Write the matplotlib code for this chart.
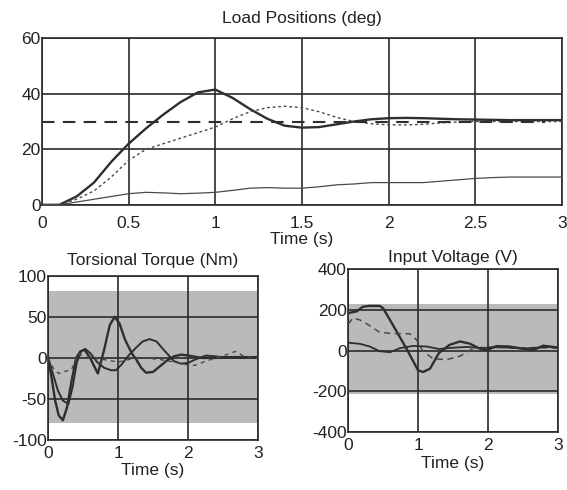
import matplotlib
matplotlib.use("Agg")
import matplotlib.pyplot as plt

plt.rcParams['font.family'] = ['Liberation Sans', 'DejaVu Sans']

# ---------------- data ----------------
t_pos = [0, 0.1, 0.2, 0.3, 0.4, 0.5, 0.6, 0.7, 0.8, 0.9, 1.0, 1.1, 1.2, 1.3, 1.4, 1.5,
         1.6, 1.7, 1.8, 1.9, 2.0, 2.1, 2.2, 2.3, 2.4, 2.5, 2.6, 2.7, 2.8, 2.9, 3.0]
pos_thick = [0, 0, 3, 8, 15.5, 22, 27.5, 32.5, 37, 40.5, 41.5, 38.5, 34.5, 31, 28.5, 27.8,
             28, 29, 30, 30.8, 31.2, 31.3, 31.2, 31, 30.8, 30.7, 30.6, 30.5, 30.5, 30.5, 30.5]
pos_dotted = [0, 0, 2, 5, 10, 16, 20, 22, 24, 26, 28, 31, 33.5, 35, 35.5, 35,
              33.5, 31.5, 30, 29.2, 28.8, 28.8, 29, 29.5, 29.8, 30, 30, 30, 30, 30, 30]
pos_thin = [0, 0, 1, 2, 3, 4, 4.5, 4.3, 4, 4.2, 4.5, 5.2, 6, 6.2, 6, 6,
            6.5, 7.2, 7.5, 8, 8, 8, 8, 8.5, 9, 9.5, 9.8, 10, 10, 10, 10]
t_ref = [0, 2.9]
pos_ref = [30, 30]

t_tq_a = [0, 0.05, 0.1, 0.15, 0.21, 0.27, 0.33, 0.4, 0.46, 0.52, 0.6, 0.71, 0.8, 0.88, 0.95,
          1.02, 1.1, 1.2, 1.26, 1.33, 1.4, 1.5, 1.6, 1.7, 1.8, 1.9, 2.0, 2.2, 2.4, 2.6, 2.8, 3.0]
tq_a = [0, -25, -52, -70, -76, -60, -30, 0, 8, 10, 0, -19, 10, 40, 50,
        42, 22, 5, -2, -12, -18, -17, -10, -3, 2, 4, 3, 0, 0, 1, 1, 1]
t_tq_b = [0, 0.07, 0.14, 0.21, 0.29, 0.35, 0.41, 0.47, 0.53, 0.6, 0.7, 0.8, 0.9, 0.97,
          1.05, 1.15, 1.25, 1.35, 1.45, 1.55, 1.65, 1.8, 1.9, 2.0, 2.1, 2.26, 2.5, 2.8, 3.0]
tq_b = [0, -20, -40, -52, -56, -35, -5, 8, 11, 6, -5, -12, -15, -15,
        -8, 3, 12, 20, 23, 20, 10, -4, -7, -6, -2, 3, 1, 0, 0]
t_tq_c = [0, 0.07, 0.15, 0.25, 0.33, 0.43, 0.5, 0.6, 0.8, 1.0, 1.2, 1.4, 1.6, 1.8,
          1.95, 2.1, 2.25, 2.4, 2.55, 2.68, 2.8, 3.0]
tq_c = [0, -12, -19, -16, -15, 5, 2, 0, -2, -5, -1, 0, -2, -5,
        -8, -9, -4, 0, 4, 8, 2, 0]
tq_band = [-79, 81]

t_v_a = [0, 0.12, 0.21, 0.3, 0.45, 0.5, 0.7, 0.85, 1.0, 1.07, 1.17, 1.3, 1.45, 1.6,
         1.74, 1.88, 1.98, 2.12, 2.3, 2.45, 2.64, 2.79, 3.0]
v_a = [184, 192, 215, 219, 219, 208, 90, 0, -97, -105, -89, -11, 28, 45,
       34, 10, 2, 22, 20, 12, 2, 24, 15]
t_v_b = [0, 0.07, 0.17, 0.31, 0.45, 0.64, 0.88, 0.98, 1.07, 1.21, 1.4, 1.6, 1.76,
         1.9, 2.1, 2.4, 2.7, 3.0]
v_b = [130, 160, 150, 122, 90, 83, 83, 52, -3, -39, -45, -27, 5,
       15, 18, 12, 15, 12]
t_v_c = [0, 0.17, 0.31, 0.45, 0.6, 0.74, 0.93, 1.12, 1.3, 1.5, 1.7, 1.9, 2.1,
         2.3, 2.5, 2.7, 2.85, 3.0]
v_c = [39, 33, 20, -3, -8, 12, 23, 20, 8, 14, 18, 12, 16,
       15, 10, 14, 18, 15]
v_band = [-214, 228]

# ---------------- styles ----------------
LC = '#2e2e2e'
GC = '#2a2a2a'
BAND = '#bababa'
TXT = '#222222'
FS = 12.5

fig = plt.figure(figsize=(5.67, 4.90), dpi=100)
fig.patch.set_facecolor('white')


def style(ax, xt, yt, xl, yl, xlab, ylab, xpad):
    ax.set_xlim(*xl)
    ax.set_ylim(*yl)
    ax.set_xticks(xt)
    ax.set_yticks(yt)
    ax.set_xticklabels(xlab, fontsize=FS, color=TXT)
    ax.set_yticklabels(ylab, fontsize=FS, color=TXT)
    ax.tick_params(axis='x', length=0, pad=xpad)
    ax.tick_params(axis='y', length=0, pad=1)
    ax.grid(True, color=GC, lw=1.2)
    ax.set_axisbelow(False)
    for s in ax.spines.values():
        s.set_color(GC)
        s.set_linewidth(1.2)


# top
ax1 = fig.add_axes([0.074, 0.582, 0.917, 0.340])
ax1.plot(t_pos, pos_thick, color=LC, lw=1.7, zorder=3)
ax1.plot(t_pos, pos_dotted, color='#4a4a4a', lw=1.0, ls=(0, (2, 2)), zorder=3)
ax1.plot(t_pos, pos_thin, color='#4a4a4a', lw=0.9, zorder=3)
ax1.plot(t_ref, pos_ref, color=LC, lw=1.5, ls=(0, (6, 4)), zorder=3)
style(ax1, [0, 0.5, 1, 1.5, 2, 2.5, 3], [0, 20, 40, 60], (0, 3), (0, 60),
      ['0', '0.5', '1', '1.5', '2', '2.5', '3'], ['0', '20', '40', '60'], 8)
ax1.set_title('Load Positions (deg)', fontsize=FS, color=TXT, pad=11)
ax1.set_xlabel('Time (s)', fontsize=FS, color=TXT, labelpad=1)

# bottom left
ax2 = fig.add_axes([0.085, 0.102, 0.370, 0.335])
ax2.axhspan(tq_band[0], tq_band[1], color=BAND, lw=0, zorder=0)
ax2.plot(t_tq_a, tq_a, color=LC, lw=1.7, zorder=3)
ax2.plot(t_tq_b, tq_b, color=LC, lw=1.4, zorder=3)
ax2.plot(t_tq_c, tq_c, color='#4a4a4a', lw=1.0, ls=(0, (3, 3)), zorder=3)
style(ax2, [0, 1, 2, 3], [-100, -50, 0, 50, 100], (0, 3), (-100, 100),
      ['0', '1', '2', '3'], ['-100', '-50', '0', '50', '100'], 4)
ax2.set_title('Torsional Torque (Nm)', fontsize=FS, color=TXT, pad=8)
ax2.set_xlabel('Time (s)', fontsize=FS, color=TXT, labelpad=2)

# bottom right
ax3 = fig.add_axes([0.614, 0.118, 0.370, 0.333])
ax3.axhspan(v_band[0], v_band[1], color=BAND, lw=0, zorder=0)
ax3.plot(t_v_a, v_a, color=LC, lw=1.7, zorder=3)
ax3.plot(t_v_b, v_b, color='#4a4a4a', lw=1.1, ls=(0, (4, 3)), zorder=3)
ax3.plot(t_v_c, v_c, color=LC, lw=1.3, zorder=3)
style(ax3, [0, 1, 2, 3], [-400, -200, 0, 200, 400], (0, 3), (-400, 400),
      ['0', '1', '2', '3'], ['-400', '-200', '0', '200', '400'], 4)
ax3.set_title('Input Voltage (V)', fontsize=FS, color=TXT, pad=5)
ax3.set_xlabel('Time (s)', fontsize=FS, color=TXT, labelpad=2)

fig.savefig('out.png', dpi=100, facecolor='white')
